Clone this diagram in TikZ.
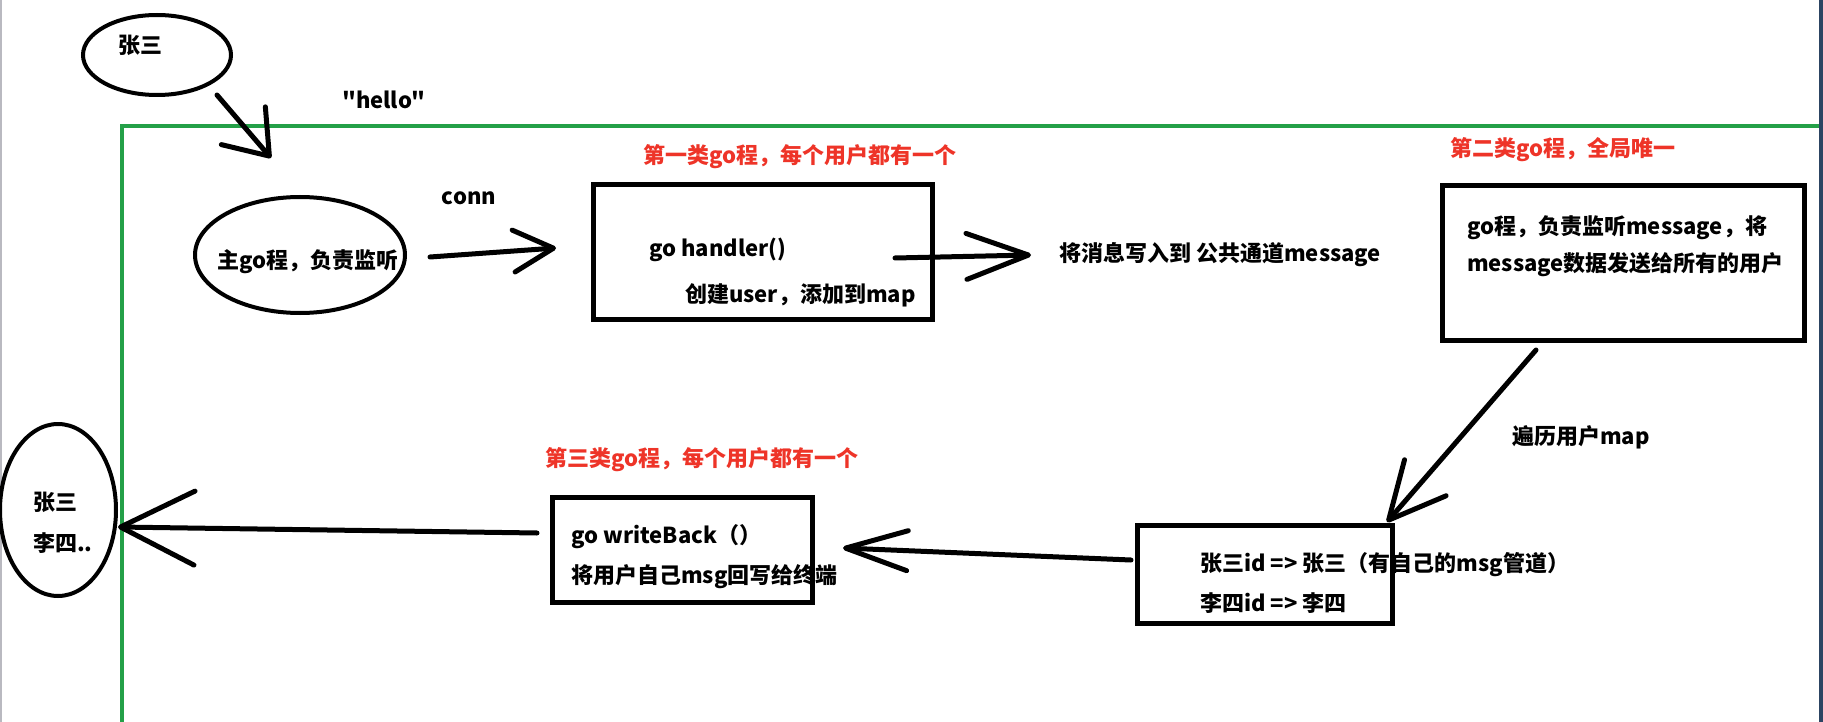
\documentclass[tikz,border=0pt]{standalone}
\usepackage{fontspec}
\setmainfont{Noto Sans CJK SC}[Ligatures=TeXOff]
\usetikzlibrary{arrows.meta,shapes.geometric}
\definecolor{gline}{RGB}{36,160,72}
\definecolor{rtext}{RGB}{238,52,40}
\definecolor{winbar}{RGB}{44,68,98}
\definecolor{winleft}{RGB}{185,185,192}
\begin{document}
\begin{tikzpicture}[x=1pt,y=-1pt,
  lbl/.style={font=\fontsize{22}{26}\selectfont\bfseries, inner sep=0pt},
  ltxt/.style={lbl, anchor=west},
  redtxt/.style={ltxt, text=rtext},
  boxnode/.style={draw, line width=5pt, inner sep=0pt},
  ellnode/.style={draw, ellipse, line width=4pt, inner sep=0pt},
  hand/.style n args={2}{line width=5pt, line cap=round,
    -{Straight Barb[length=#1pt, width=#2pt, round]}}
]
\useasboundingbox (0,0) rectangle (1823,722);
\fill[white] (0,0) rectangle (1823,722);
% window borders
\fill[winleft] (0,0) rectangle (2,722);
\fill[winbar] (1819,0) rectangle (1823,722);
% green frame
\draw[gline, line width=4pt] (1819,126) -- (122,126) -- (122,725);

% nodes
\node[ellnode, minimum width=148pt, minimum height=80pt] (zs) at (157,55) {};
\node[lbl] (zst) at (140,45) {张三};
\node[lbl] (hello) at (384,100) {"hello"};
\node[ellnode, minimum width=210pt, minimum height=116pt] (main) at (300,255) {};
\node[lbl] (maint) at (308,262) {主go程，负责监听};
\node[lbl] (conn) at (469,198) {conn};

\node[redtxt] (r1) at (643,157) {第一类go程，每个用户都有一个};
\node[boxnode, minimum width=339pt, minimum height=135pt] (b1) at (763,252) {};
\node[ltxt] (b1a) at (649,250) {go handler()};
\node[ltxt] (b1b) at (685,295) {创建user，添加到map};
\node[ltxt] (pub) at (1059,255) {将消息写入到 公共通道message};

\node[redtxt] (r2) at (1450,150) {第二类go程，全局唯一};
\node[boxnode, minimum width=362pt, minimum height=155pt] (b2) at (1623.5,263) {};
\node[ltxt] (b2a) at (1467,228) {go程，负责监听message，将};
\node[ltxt] (b2b) at (1467,265) {message数据发送给所有的用户};

\node[lbl] (trav) at (1581,437) {遍历用户map};
\node[boxnode, minimum width=255pt, minimum height=98pt] (b3) at (1265,574.5) {};
\node[ltxt] (b3a) at (1200,565) {张三id => 张三（有自己的msg管道）};
\node[ltxt] (b3b) at (1200,603) {李四id => 李四};

\node[redtxt] (r3) at (545,460) {第三类go程，每个用户都有一个};
\node[boxnode, minimum width=260pt, minimum height=105pt] (b4) at (682.5,550) {};
\node[ltxt] (b4a) at (571,537) {go writeBack（）};
\node[ltxt] (b4b) at (571,577) {将用户自己msg回写给终端};

\node[ellnode, minimum width=116pt, minimum height=172pt] (users) at (58,510) {};
\node[ltxt] (u1) at (33,502) {张三};
\node[ltxt] (u2) at (33,543) {李四..};

% arrow end points
\coordinate (a1s) at (217,95);
\coordinate (a1e) at (271,158);
\coordinate (a2s) at (430,257);
\coordinate (a2e) at (556,248);
\coordinate (a3s) at (895,258);
\coordinate (a3e) at (1031,255);
\coordinate (a4s) at (1536,350);
\coordinate (a4e) at (1387,522);
\coordinate (a5s) at (1131,560);
\coordinate (a5e) at (843,548);
\coordinate (a6s) at (537,533);
\coordinate (a6e) at (118,527);

\draw[hand={40}{58}] (a1s) -- (a1e);
\draw[hand={40}{42}] (a2s) -- (a2e);
\draw[hand={62}{46}] (a3s) -- (a3e);
\draw[hand={56}{55}] (a4s) -- (a4e);
\draw[hand={62}{40}] (a5s) -- (a5e);
\draw[hand={74}{74}] (a6s) -- (a6e);
\end{tikzpicture}
\end{document}
